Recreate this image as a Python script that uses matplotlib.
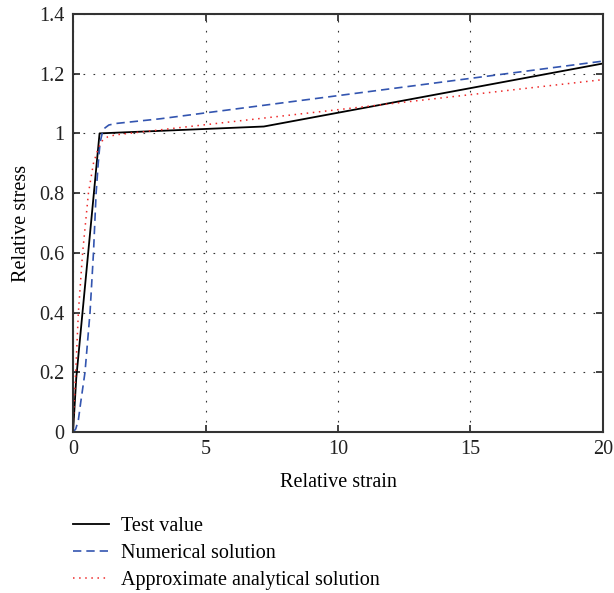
import matplotlib
matplotlib.use("Agg")
import matplotlib.pyplot as plt

plt.rcParams['font.family'] = ['Liberation Serif', 'DejaVu Serif']

# Test value (black solid)
test_x = [0.0, 0.12, 1.0, 7.2, 20.0]
test_y = [0.0, 0.18, 1.0, 1.023, 1.234]

# Numerical solution (blue dashed)
num_x = [0.0, 0.1, 0.2, 0.29, 0.45, 0.64, 0.77, 0.87, 0.95, 1.02, 1.1, 1.2, 1.35, 1.6, 3.3, 20.0]
num_y = [0.0, 0.01, 0.04, 0.1, 0.2, 0.4, 0.6, 0.8, 0.9, 0.97, 1.0, 1.018, 1.028, 1.033, 1.049, 1.242]

# Approximate analytical solution (red dotted)
ana_x = [0.0, 0.03, 0.1, 0.2, 0.36, 0.58, 0.77, 0.95, 1.1, 1.3, 1.6, 3.3, 20.0]
ana_y = [0.0, 0.08, 0.2, 0.4, 0.6, 0.8, 0.9, 0.95, 0.975, 0.988, 0.995, 1.012, 1.18]

fig = plt.figure(figsize=(6.14, 5.93), dpi=100)
ax = fig.add_axes([0.119, 0.2715, 0.863, 0.705])

ax.plot(test_x, test_y, color='black', lw=1.3, label='Test value')
ax.plot(num_x, num_y, color='#3355b0', lw=1.2, linestyle=(0, (5, 3)), label='Numerical solution')
ax.plot(ana_x, ana_y, color='#ee2a2a', lw=1.1, linestyle=(0, (1, 3)), label='Approximate analytical solution')

ax.set_xlim(0, 20)
ax.set_ylim(0, 1.4)
ax.set_xticks([0, 5, 10, 15, 20])
ax.set_xticklabels(['0', '5', '10', '15', '20'])
ax.set_yticks([0, 0.2, 0.4, 0.6, 0.8, 1.0, 1.2, 1.4])
ax.set_yticklabels(['0', '0.2', '0.4', '0.6', '0.8', '1', '1.2', '1.4'])
ax.grid(True, color='#333333', lw=0.8, linestyle=(0, (1.5, 7.5)))
ax.tick_params(direction='in', length=5, width=1.2, top=True, right=True, labelsize=14.5, colors='#222222', pad=6)
for s in ax.spines.values():
    s.set_linewidth(1.5)
    s.set_color('#333333')

ax.set_xlabel('Relative strain', fontsize=14.5, labelpad=10)
ax.set_ylabel('Relative stress', fontsize=14.5, labelpad=6)

fig.legend(loc='upper left', bbox_to_anchor=(0.119, 0.128), frameon=False, fontsize=14.5,
           handlelength=1.8, handletextpad=0.6, labelspacing=0.4, borderaxespad=0, borderpad=0)

fig.savefig('out.png', dpi=100)
